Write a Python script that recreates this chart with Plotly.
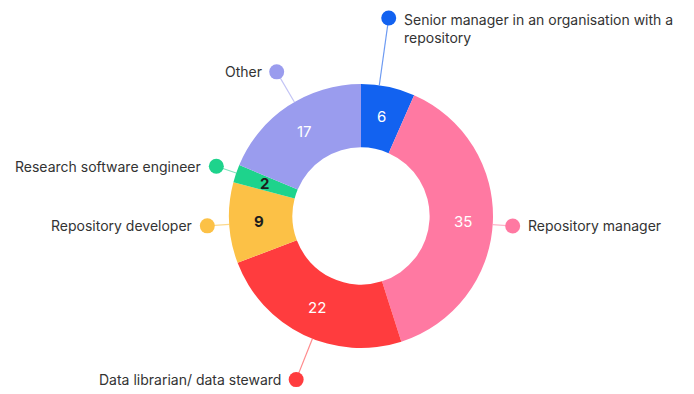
import math
import plotly.graph_objects as go

# ---- data ----
categories = [
    "Senior manager in an organisation with a<br>repository",
    "Repository manager",
    "Data librarian/ data steward",
    "Repository developer",
    "Research software engineer",
    "Other",
]
values = [6, 35, 22, 9, 2, 17]

# ---- styles ----
colors = ["#1262F0", "#FF79A2", "#FF3C3E", "#FCC146", "#1ED38C", "#9A9CEE"]
line_colors = ["#6E9BF2", "#FFB3C9", "#FF8A8C", "#FCD98C", "#7FE5BC", "#C3C4F5"]
value_colors = ["white", "white", "white", "#1d1d1d", "#1d1d1d", "white"]
value_weight = [400, 400, 400, 700, 700, 400]
label_radius = [200, 152, 176, 154, 153, 167]
angle_nudge = [-3.9, 0.8, -4.1, -0.7, 0.2, 3.3]

W, H = 694, 394
CX, CY, R = 361, 216, 132
HOLE = 0.52
VALUE_R = 102
FONT = "Inter, 'Noto Sans', sans-serif"

fig = go.Figure()
fig.add_trace(go.Pie(
    labels=[c.replace("<br>", " ") for c in categories],
    values=values,
    sort=False,
    direction="clockwise",
    rotation=0,
    hole=HOLE,
    marker=dict(colors=colors, line=dict(width=0)),
    textinfo="none",
    domain=dict(x=[(CX - R) / W, (CX + R) / W], y=[1 - (CY + R) / H, 1 - (CY - R) / H]),
    showlegend=False,
    hoverinfo="label+value",
))

total = sum(values)
cum = 0
annotations = []
for i, v in enumerate(values):
    mid = (cum + v / 2) / total * 360
    cum += v
    mrad = math.radians(mid)
    # value label inside the ring
    annotations.append(dict(
        x=CX + VALUE_R * math.sin(mrad), y=CY - VALUE_R * math.cos(mrad),
        xref="x", yref="y", text=str(v), showarrow=False,
        xanchor="center", yanchor="middle",
        font=dict(family=FONT, size=15, color=value_colors[i], weight=value_weight[i]),
    ))
    ang = math.radians(mid + angle_nudge[i])
    sx, sy = CX + R * math.sin(ang), CY - R * math.cos(ang)
    dx, dy = CX + label_radius[i] * math.sin(ang), CY - label_radius[i] * math.cos(ang)
    fig.add_trace(go.Scatter(
        x=[sx, dx], y=[sy, dy], mode="lines",
        line=dict(color=line_colors[i], width=1.2),
        hoverinfo="skip", showlegend=False,
    ))
    fig.add_trace(go.Scatter(
        x=[dx], y=[dy], mode="markers",
        marker=dict(color=colors[i], size=15, line=dict(width=0)),
        hoverinfo="skip", showlegend=False,
    ))
    right = dx > CX
    multi = "<br>" in categories[i]
    annotations.append(dict(
        x=dx + (13 if right else -13), y=dy - (9 if multi else 0),
        xref="x", yref="y",
        text=categories[i], showarrow=False,
        xanchor="left" if right else "right",
        yanchor="top" if multi else "middle",
        align="left" if right else "right",
        font=dict(family=FONT, size=14, color="#333333"),
    ))

fig.update_layout(
    width=W, height=H,
    margin=dict(l=0, r=0, t=0, b=0),
    paper_bgcolor="white", plot_bgcolor="rgba(0,0,0,0)",
    xaxis=dict(range=[0, W], visible=False, fixedrange=True, domain=[0, 1]),
    yaxis=dict(range=[H, 0], visible=False, fixedrange=True, domain=[0, 1]),
    annotations=annotations,
)

fig.write_html("out.html", post_script="document.body.style.margin='0';",
               config={"displayModeBar": False})
